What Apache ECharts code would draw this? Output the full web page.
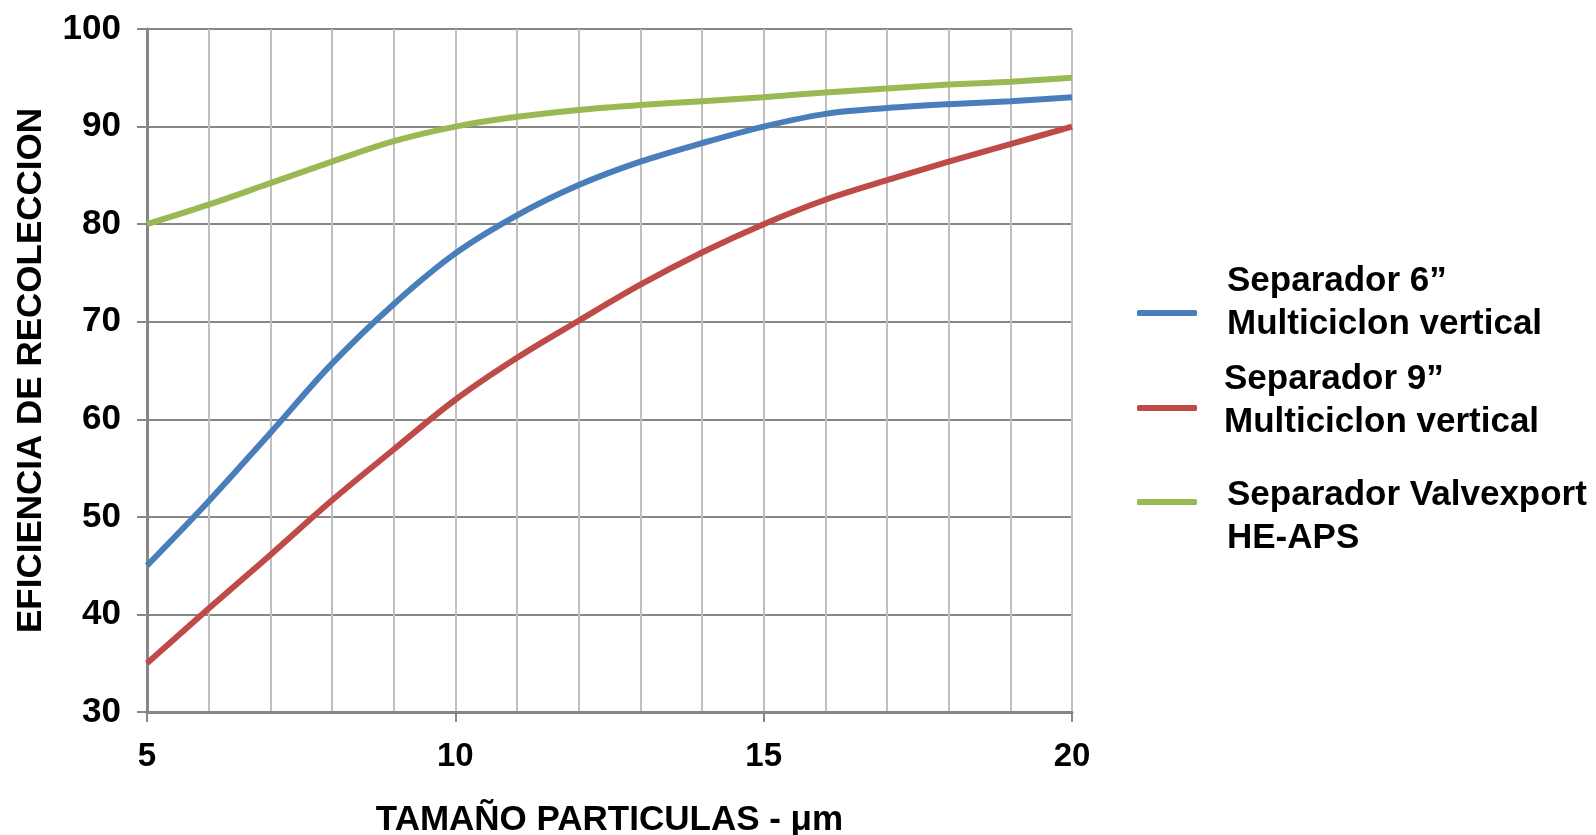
<!DOCTYPE html>
<html>
<head>
<meta charset="utf-8">
<title>Eficiencia de recoleccion</title>
<script src="https://cdn.jsdelivr.net/npm/echarts@6/dist/echarts.min.js"></script>
<style>
  html, body { margin: 0; padding: 0; background: #fff; }
  #chart { width: 1596px; height: 835px; }
</style>
</head>
<body>
<div id="chart"></div>
<script>
// particle size (µm)
const sizes = [5, 6, 7, 8, 9, 10, 11, 12, 13, 14, 15, 16, 17, 18, 19, 20];

const sep6 = [45, 51.6, 58.6, 65.7, 71.8, 77, 80.9, 84, 86.4, 88.3, 90, 91.3, 91.9, 92.3, 92.6, 93];
const sep9 = [35, 40.6, 46.1, 51.7, 56.9, 62, 66.3, 70.1, 73.8, 77.1, 80, 82.5, 84.5, 86.4, 88.2, 90];
const valvexport = [80, 82, 84.2, 86.4, 88.5, 90, 91, 91.7, 92.2, 92.6, 93, 93.5, 93.9, 94.3, 94.6, 95];

const seriesNames = [
  'Separador 6\u201d\nMulticiclon vertical',
  'Separador 9\u201d\nMulticiclon vertical',
  'Separador Valvexport\nHE-APS'
];
const colors = ['#4A7EBB', '#BE4B48', '#98B954'];

const font = 'Liberation Sans, Arial, sans-serif';
const chart = echarts.init(document.getElementById('chart'));

function makeSeries(name, values, color) {
  return {
    name: name,
    type: 'line',
    data: sizes.map((x, i) => [x, values[i]]),
    smooth: 0.35,
    symbol: 'none',
    lineStyle: { color: color, width: 6 },
    itemStyle: { color: color }
  };
}

// one legend per entry; an empty spacer line shifts the text against the icon
function makeLegend(name, top, left, before, after) {
  return {
    data: [name],
    orient: 'vertical',
    left: 1137,
    top: top,
    padding: 0,
    icon: 'roundRect',
    itemWidth: 60,
    itemHeight: 6,
    selectedMode: false,
    formatter: n => (before ? '{b| }\n' : '') + n + (after ? '\n{a| }' : ''),
    textStyle: {
      fontFamily: font,
      fontWeight: 'bold',
      fontSize: 35,
      lineHeight: 43,
      color: '#000',
      padding: [0, 0, 0, left],
      rich: {
        b: { fontSize: 1, lineHeight: before || 1 },
        a: { fontSize: 1, lineHeight: after || 1 }
      }
    }
  };
}

const option = {
  animation: false,
  backgroundColor: '#fff',
  color: colors,
  grid: { left: 147, right: 524, top: 29, bottom: 123, outerBoundsMode: 'none' },
  legend: [
    makeLegend(seriesNames[0], 260, 25, 0, 20),
    makeLegend(seriesNames[1], 358, 22, 0, 14),
    makeLegend(seriesNames[2], 444, 25, 30, 0)
  ],
  xAxis: {
    type: 'value',
    min: 5,
    max: 20,
    interval: 5,
    name: 'TAMA\u00d1O PARTICULAS - \u03bcm',
    nameLocation: 'middle',
    nameGap: 91,
    nameTextStyle: { fontFamily: font, fontWeight: 'bold', fontSize: 35, color: '#000' },
    axisLine: { lineStyle: { color: '#868686', width: 3 } },
    axisTick: { show: true, length: 10, lineStyle: { color: '#868686', width: 2 } },
    axisLabel: { fontFamily: font, fontWeight: 'bold', fontSize: 33, color: '#000', margin: 28 },
    splitLine: { show: true, lineStyle: { color: '#BFBFBF', width: 2 } },
    minorTick: { show: false, splitNumber: 5 },
    minorSplitLine: { show: true, lineStyle: { color: '#BFBFBF', width: 2 } }
  },
  yAxis: {
    type: 'value',
    min: 30,
    max: 100,
    interval: 10,
    name: 'EFICIENCIA DE RECOLECCION',
    nameLocation: 'middle',
    nameGap: 98,
    nameTextStyle: { fontFamily: font, fontWeight: 'bold', fontSize: 35, color: '#000' },
    axisLine: { show: true, lineStyle: { color: '#868686', width: 3 } },
    axisTick: { show: true, length: 10, lineStyle: { color: '#868686', width: 2 } },
    axisLabel: { fontFamily: font, fontWeight: 'bold', fontSize: 35, color: '#000', margin: 26 },
    splitLine: { show: true, lineStyle: { color: '#868686', width: 2 } }
  },
  series: [
    makeSeries(seriesNames[0], sep6, colors[0]),
    makeSeries(seriesNames[1], sep9, colors[1]),
    makeSeries(seriesNames[2], valvexport, colors[2])
  ]
};

chart.setOption(option);
</script>
</body>
</html>
